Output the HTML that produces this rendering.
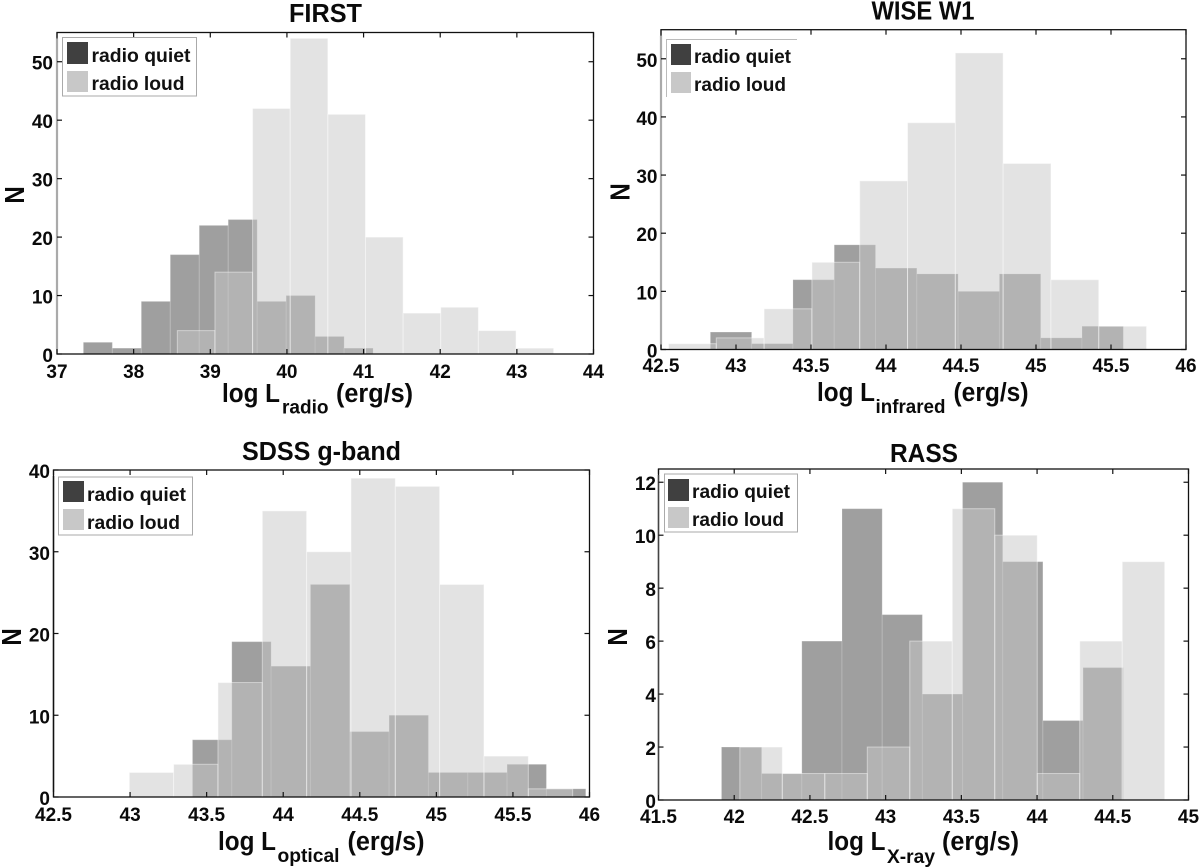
<!DOCTYPE html>
<html lang="en">
<head>
<meta charset="utf-8">
<title>Luminosity histograms</title>
<style>
html,body{margin:0;padding:0;background:#fff;}
svg{display:block;font-family:"Liberation Sans",sans-serif;}
.title{font-size:25.5px;font-weight:bold;text-anchor:middle;fill:#0a0a0a;}
.xlab{font-size:25.5px;font-weight:bold;fill:#0a0a0a;}
.sub{font-size:19px;font-weight:bold;fill:#0a0a0a;}
.ylab{font-size:24px;font-weight:bold;text-anchor:middle;fill:#0a0a0a;}
.leg{font-size:19px;font-weight:bold;fill:#111;}
.tick{font-size:19px;font-weight:bold;fill:#0a0a0a;}
</style>
</head>
<body>
<svg id="fig" xmlns="http://www.w3.org/2000/svg" width="1200" height="868" viewBox="0 0 1200 868">
<rect width="1200" height="868" fill="#fff"/>
<g id="p0"></g>
<g id="p1"></g>
<g id="p2"></g>
<g id="p3"></g>

<text class="title" x="325.5" y="22" textLength="73" lengthAdjust="spacingAndGlyphs">FIRST</text>
<text class="xlab" x="222" y="402" textLength="58" lengthAdjust="spacingAndGlyphs">log L</text>
<text class="sub" x="282" y="413.5" textLength="46.5" lengthAdjust="spacingAndGlyphs">radio</text>
<text class="xlab" x="336" y="402" textLength="77" lengthAdjust="spacingAndGlyphs">(erg/s)</text>
<text class="ylab" transform="translate(24,195) rotate(-90) scale(1,1.15)">N</text>

<text class="title" x="923" y="19.5" textLength="103" lengthAdjust="spacingAndGlyphs">WISE W1</text>
<text class="xlab" x="817" y="401" textLength="58" lengthAdjust="spacingAndGlyphs">log L</text>
<text class="sub" x="875.5" y="413" textLength="70" lengthAdjust="spacingAndGlyphs">infrared</text>
<text class="xlab" x="953.5" y="401" textLength="75" lengthAdjust="spacingAndGlyphs">(erg/s)</text>
<text class="ylab" transform="translate(629.5,192) rotate(-90) scale(1,1.15)">N</text>

<text class="title" x="321.5" y="460" textLength="159" lengthAdjust="spacingAndGlyphs">SDSS g-band</text>
<text class="xlab" x="218" y="850" textLength="58" lengthAdjust="spacingAndGlyphs">log L</text>
<text class="sub" x="277.5" y="862" textLength="62" lengthAdjust="spacingAndGlyphs">optical</text>
<text class="xlab" x="347.5" y="850" textLength="77" lengthAdjust="spacingAndGlyphs">(erg/s)</text>
<text class="ylab" transform="translate(21,637) rotate(-90) scale(1,1.15)">N</text>

<text class="title" x="924" y="462" textLength="68" lengthAdjust="spacingAndGlyphs">RASS</text>
<text class="xlab" x="827.5" y="850" textLength="58" lengthAdjust="spacingAndGlyphs">log L</text>
<text class="sub" x="887" y="863" textLength="48" lengthAdjust="spacingAndGlyphs">X-ray</text>
<text class="xlab" x="942" y="850" textLength="77" lengthAdjust="spacingAndGlyphs">(erg/s)</text>
<text class="ylab" transform="translate(627,637) rotate(-90) scale(1,1.15)">N</text>

<g>
<rect x="62.5" y="37.5" width="134" height="58.5" fill="#fff" stroke="#aaa" stroke-width="1"/>
<rect x="67" y="42" width="21" height="22" fill="#404040"/>
<rect x="67" y="71" width="21" height="21" fill="#c8c8c8"/>
<text class="leg" x="91.5" y="62" textLength="99" lengthAdjust="spacingAndGlyphs">radio quiet</text>
<text class="leg" x="91.5" y="90" textLength="93" lengthAdjust="spacingAndGlyphs">radio loud</text>
</g>
<g>
<path d="M666.5 97V39.5H797" fill="none" stroke="#bbb" stroke-width="1"/>
<rect x="671" y="44" width="20" height="21" fill="#404040"/>
<rect x="671" y="72" width="20" height="21" fill="#c8c8c8"/>
<text class="leg" x="694" y="63" textLength="97" lengthAdjust="spacingAndGlyphs">radio quiet</text>
<text class="leg" x="694" y="91" textLength="92" lengthAdjust="spacingAndGlyphs">radio loud</text>
</g>
<g>
<rect x="58.5" y="477" width="134" height="58" fill="#fff" stroke="#aaa" stroke-width="1"/>
<rect x="63" y="481" width="21" height="21" fill="#404040"/>
<rect x="63" y="509" width="21" height="21" fill="#c8c8c8"/>
<text class="leg" x="87" y="501" textLength="99" lengthAdjust="spacingAndGlyphs">radio quiet</text>
<text class="leg" x="87" y="529" textLength="93" lengthAdjust="spacingAndGlyphs">radio loud</text>
</g>
<g>
<rect x="664.5" y="474" width="133" height="58" fill="#fff" stroke="#aaa" stroke-width="1"/>
<rect x="668" y="479" width="21" height="22" fill="#404040"/>
<rect x="668" y="507" width="21" height="21" fill="#c8c8c8"/>
<text class="leg" x="692" y="498" textLength="98" lengthAdjust="spacingAndGlyphs">radio quiet</text>
<text class="leg" x="692" y="526" textLength="92" lengthAdjust="spacingAndGlyphs">radio loud</text>
</g>
</svg>
<script>
// Chart data: counts per bin, bin starts/widths (in log L units), tick labels.
const firstQuiet = [2, 1, 9, 17, 22, 23, 9, 10, 3, 1];
const firstLoud = [4, 14, 42, 54, 41, 20, 7, 8, 4, 1];
const firstQuietStart = 37.344, firstQuietWidth = 0.378;
const firstLoudStart = 38.57, firstLoudWidth = 0.491;
const firstXTicks = ['37', '38', '39', '40', '41', '42', '43', '44'];
const firstYTicks = ['0', '10', '20', '30', '40', '50'];

const wiseQuiet = [3, 1, 12, 18, 14, 13, 10, 13, 2, 4];
const wiseLoud = [1, 2, 7, 15, 29, 39, 51, 32, 12, 4];
const wiseQuietStart = 42.829, wiseQuietWidth = 0.2753;
const wiseLoudStart = 42.55, wiseLoudWidth = 0.3187;
const wiseXTicks = ['42.5', '43', '43.5', '44', '44.5', '45', '45.5', '46'];
const wiseYTicks = ['0', '10', '20', '30', '40', '50'];

const sdssQuiet = [7, 19, 16, 26, 8, 10, 3, 3, 4, 1];
const sdssLoud = [3, 4, 14, 35, 30, 39, 38, 26, 5, 1];
const sdssQuietStart = 43.4075, sdssQuietWidth = 0.2568;
const sdssLoudStart = 42.995, sdssLoudWidth = 0.2895;
const sdssXTicks = ['42.5', '43', '43.5', '44', '44.5', '45', '45.5', '46'];
const sdssYTicks = ['0', '10', '20', '30', '40'];

const rassQuiet = [2, 1, 6, 11, 7, 4, 12, 9, 3, 5];
const rassLoud = [2, 1, 1, 2, 6, 11, 10, 1, 6, 9];
const rassQuietStart = 41.916, rassQuietWidth = 0.2653;
const rassLoudStart = 42.037, rassLoudWidth = 0.2806;
const rassXTicks = ['41.5', '42', '42.5', '43', '43.5', '44', '44.5', '45'];
const rassYTicks = ['0', '2', '4', '6', '8', '10', '12'];

const panels = [
  {id:'p0', key:'first', quiet:firstQuiet, loud:firstLoud, qs:firstQuietStart, qw:firstQuietWidth, ls:firstLoudStart, lw:firstLoudWidth, xt:firstXTicks, yt:firstYTicks,
   xMin:37, xMax:44, yMax:55, L:57, R:593.5, T:32.5, B:354, xBase:378, yRight:53, spine:'#aaa', spineW:2.2},
  {id:'p1', key:'wise', quiet:wiseQuiet, loud:wiseLoud, qs:wiseQuietStart, qw:wiseQuietWidth, ls:wiseLoudStart, lw:wiseLoudWidth, xt:wiseXTicks, yt:wiseYTicks,
   xMin:42.5, xMax:46, yMax:55, L:661, R:1186, T:29.7, B:349.5, xBase:372, yRight:657.5, spine:'#aaa', spineW:2.2},
  {id:'p2', key:'sdss', quiet:sdssQuiet, loud:sdssLoud, qs:sdssQuietStart, qw:sdssQuietWidth, ls:sdssLoudStart, lw:sdssLoudWidth, xt:sdssXTicks, yt:sdssYTicks,
   xMin:42.5, xMax:46, yMax:40, L:53.5, R:589.5, T:470, B:797, xBase:821, yRight:50, spine:'#111', spineW:1.4},
  {id:'p3', key:'rass', quiet:rassQuiet, loud:rassLoud, qs:rassQuietStart, qw:rassQuietWidth, ls:rassLoudStart, lw:rassLoudWidth, xt:rassXTicks, yt:rassYTicks,
   xMin:41.5, xMax:45, yMax:12.5, L:658.5, R:1188.5, T:469, B:800, xBase:823, yRight:656, spine:'#444', spineW:1.4}
];

const NS = 'http://www.w3.org/2000/svg';
function mk(parent, tag, attrs) {
  const el = document.createElementNS(NS, tag);
  for (const k in attrs) el.setAttribute(k, attrs[k]);
  parent.appendChild(el);
  return el;
}

panels.forEach(function (p) {
  const g = document.getElementById(p.id);
  const sx = function (v) { return p.L + (v - p.xMin) / (p.xMax - p.xMin) * (p.R - p.L); };
  const sy = function (v) { return p.B - v / p.yMax * (p.B - p.T); };

  p.quiet.forEach(function (n, i) {
    const x0 = sx(p.qs + i * p.qw), x1 = sx(p.qs + (i + 1) * p.qw), y = sy(n);
    const el = mk(g, 'rect', {x:x0, y:y, width:x1 - x0, height:p.B - y, fill:'#404040', 'fill-opacity':.5, stroke:'#fff', 'stroke-opacity':.18, 'stroke-width':1});
    
    
  });
  p.loud.forEach(function (n, i) {
    const x0 = sx(p.ls + i * p.lw), x1 = sx(p.ls + (i + 1) * p.lw), y = sy(n);
    const el = mk(g, 'rect', {x:x0, y:y, width:x1 - x0, height:p.B - y, fill:'#c8c8c8', 'fill-opacity':.5, stroke:'#fff', 'stroke-opacity':.45, 'stroke-width':1});
    
    
  });

  const frame = mk(g, 'rect', {x:p.L, y:p.T, width:p.R - p.L, height:p.B - p.T, fill:'none', stroke:'#111', 'stroke-width':1.3});
  
  
  const leftSpine = mk(g, 'line', {x1:p.L, x2:p.L, y1:p.T + 6, y2:p.B - 5, stroke:p.spine, 'stroke-width':p.spineW});
  
  

  p.xt.forEach(function (label) {
    const x = sx(parseFloat(label));
    const t1 = mk(g, 'line', {x1:x, x2:x, y1:p.B, y2:p.B - 5, stroke:'#111', 'stroke-width':1.2});
    
    
    const t2 = mk(g, 'line', {x1:x, x2:x, y1:p.T, y2:p.T + 5, stroke:'#111', 'stroke-width':1.2});
    
    
    const t = mk(g, 'text', {x:x, y:p.xBase, 'text-anchor':'middle', class:'tick'});
    
    
    t.textContent = label;
  });
  p.yt.forEach(function (label) {
    const y = sy(parseFloat(label));
    const t1 = mk(g, 'line', {x1:p.L, x2:p.L + 5, y1:y, y2:y, stroke:'#111', 'stroke-width':1.2});
    
    
    const t2 = mk(g, 'line', {x1:p.R, x2:p.R - 5, y1:y, y2:y, stroke:'#111', 'stroke-width':1.2});
    
    
    const t = mk(g, 'text', {x:p.yRight, y:y + 8, 'text-anchor':'end', class:'tick'});
    
    
    t.textContent = label;
  });
});
</script>
</body>
</html>
